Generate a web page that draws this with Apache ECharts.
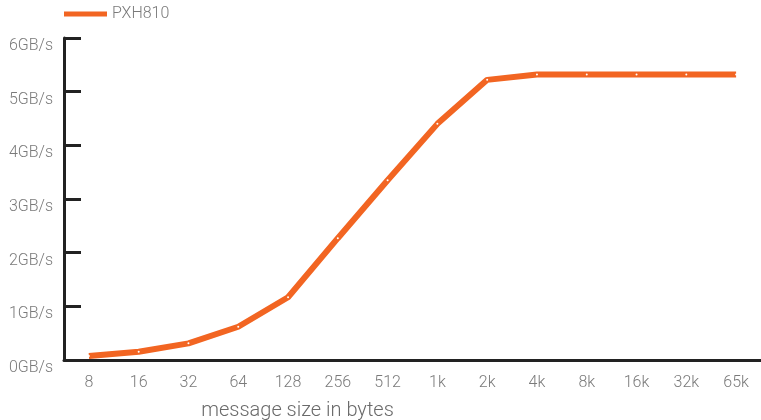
<!DOCTYPE html>
<html><head><meta charset="utf-8">
<script src="https://cdn.jsdelivr.net/npm/echarts@6/dist/echarts.min.js"></script>
<style>html,body{margin:0;padding:0;background:#fff}#c{width:761px;height:420px}</style>
</head><body><div id="c"></div>
<script>
const categories = ['8','16','32','64','128','256','512','1k','2k','4k','8k','16k','32k','65k'];
const pxh810 = [0.075, 0.155, 0.31, 0.62, 1.17, 2.27, 3.35, 4.4, 5.22, 5.32, 5.32, 5.32, 5.32, 5.32];
const seriesName = 'PXH810';
const xAxisTitle = 'message size in bytes';

const font = 'Roboto';
const chart = echarts.init(document.getElementById('c'));
chart.setOption({
  animation: false,
  grid: {left: 64, right: 0, top: 38, bottom: 60, containLabel: false, outerBoundsMode: 'none'},
  legend: {
    left: 64, top: 6, padding: 0, itemWidth: 43, itemHeight: 5, itemGap: 7,
    icon: 'rect',
    itemStyle: {color: '#f26522'},
    data: [seriesName],
    textStyle: {fontFamily: font, fontSize: 16, color: '#7a7a7a', fontWeight: 300}
  },
  xAxis: {
    type: 'category', data: categories, boundaryGap: true,
    name: xAxisTitle, nameLocation: 'middle', nameGap: 41,
    nameTextStyle: {fontFamily: font, fontSize: 20, color: '#6a6a6a', fontWeight: 300, padding: [0, 230, 0, 0]},
    axisLine: {lineStyle: {color: '#222', width: 3}},
    axisTick: {show: false},
    axisLabel: {fontFamily: font, fontSize: 16, color: '#7a7a7a', margin: 15, fontWeight: 300}
  },
  yAxis: {
    type: 'value', min: 0, max: 6, interval: 1,
    axisLine: {show: true, lineStyle: {color: '#222', width: 3}},
    axisTick: {show: true, inside: true, length: 17, lineStyle: {color: '#222', width: 3}},
    splitLine: {show: false},
    axisLabel: {fontFamily: font, fontSize: 16, color: '#7a7a7a', margin: 11, fontWeight: 300,
      formatter: v => v + 'GB/s', verticalAlign: 'top'}
  },
  series: [{
    name: seriesName, type: 'line', data: pxh810,
    color: '#f26522',
    lineStyle: {color: '#f26522', width: 6},
    symbol: 'circle', symbolSize: 2,
    itemStyle: {color: '#ffffff', borderWidth: 0}
  }]
});
</script></body></html>
